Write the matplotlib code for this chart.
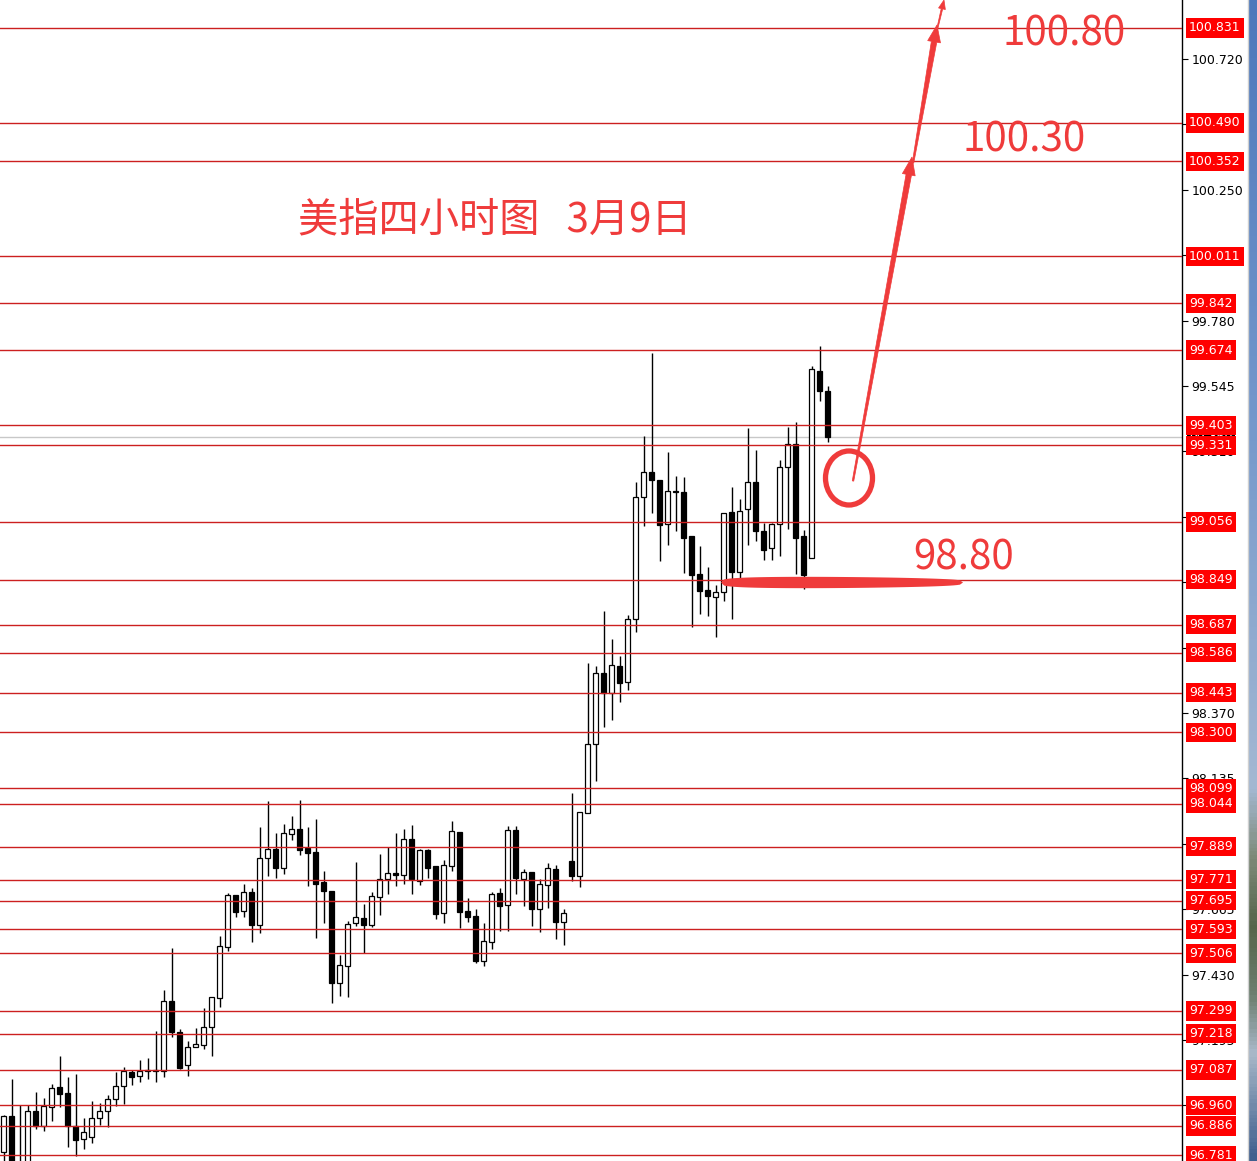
import numpy as np
import matplotlib
matplotlib.use("Agg")
from matplotlib import pyplot as plt
from matplotlib.patches import Polygon, Ellipse
from matplotlib.colors import LinearSegmentedColormap

# USD index, 4 hour candles (oldest first)
opens = [96.792, 96.921, 96.740, 96.740, 96.939, 96.885, 96.954, 97.025, 97.004, 96.885,
         96.839, 96.846, 96.914, 96.939, 96.982, 97.029, 97.079, 97.065, 97.086, 97.086,
         97.083, 97.334, 97.223, 97.104, 97.169, 97.176, 97.241, 97.345, 97.528, 97.715,
         97.658, 97.726, 97.607, 97.848, 97.881, 97.812, 97.934, 97.952, 97.884, 97.870,
         97.762, 97.730, 97.399, 97.460, 97.615, 97.633, 97.607, 97.708, 97.773, 97.794,
         97.787, 97.916, 97.766, 97.877, 97.820, 97.651, 97.820, 97.942, 97.658, 97.640,
         97.478, 97.546, 97.722, 97.679, 97.949, 97.773, 97.798, 97.665, 97.751, 97.809,
         97.618, 97.837, 97.784, 98.010, 98.258, 98.513, 98.441, 98.538, 98.481, 98.707,
         99.147, 99.237, 99.208, 99.050, 99.169, 99.165, 99.004, 98.868, 98.810, 98.785,
         98.803, 99.093, 98.875, 99.101, 99.198, 99.022, 98.964, 99.050, 99.252, 99.338,
         99.004, 98.925, 99.600, 99.525]
highs = [96.925, 97.054, 96.961, 96.961, 97.007, 96.986, 97.036, 97.137, 97.061, 97.072,
         96.914, 96.975, 96.968, 96.997, 97.079, 97.097, 97.086, 97.122, 97.130, 97.227,
         97.374, 97.525, 97.234, 97.191, 97.237, 97.309, 97.349, 97.568, 97.722, 97.715,
         97.755, 97.740, 97.960, 98.053, 97.938, 97.970, 97.999, 98.057, 97.960, 97.988,
         97.802, 97.730, 97.500, 97.622, 97.834, 97.683, 97.726, 97.863, 97.888, 97.938,
         97.952, 97.967, 97.881, 97.881, 97.820, 97.841, 97.981, 97.942, 97.704, 97.665,
         97.615, 97.726, 97.740, 97.963, 97.963, 97.809, 97.798, 97.773, 97.830, 97.823,
         97.665, 98.082, 98.013, 98.549, 98.538, 98.736, 98.635, 98.574, 98.721, 99.201,
         99.366, 99.664, 99.208, 99.309, 99.223, 99.219, 99.004, 98.968, 98.896, 98.828,
         99.090, 99.183, 99.140, 99.395, 99.316, 99.054, 99.054, 99.280, 99.399, 99.417,
         99.029, 99.618, 99.690, 99.543]
lows = [96.700, 96.700, 96.680, 96.700, 96.875, 96.867, 96.903, 96.954, 96.810, 96.777,
        96.803, 96.824, 96.889, 96.882, 96.957, 96.964, 97.033, 97.043, 97.054, 97.043,
        97.061, 97.205, 97.090, 97.065, 97.169, 97.162, 97.137, 97.313, 97.514, 97.636,
        97.636, 97.546, 97.579, 97.784, 97.776, 97.791, 97.913, 97.859, 97.748, 97.561,
        97.615, 97.327, 97.352, 97.349, 97.604, 97.507, 97.600, 97.643, 97.719, 97.748,
        97.755, 97.719, 97.751, 97.776, 97.629, 97.615, 97.802, 97.597, 97.618, 97.471,
        97.460, 97.521, 97.586, 97.586, 97.719, 97.676, 97.604, 97.582, 97.669, 97.557,
        97.536, 97.766, 97.744, 98.010, 98.125, 98.319, 98.344, 98.409, 98.452, 98.660,
        99.043, 99.090, 98.917, 98.975, 99.022, 98.871, 98.677, 98.724, 98.717, 98.641,
        98.771, 98.709, 98.853, 98.975, 98.986, 98.921, 98.921, 98.935, 99.032, 98.868,
        98.814, 98.925, 99.489, 99.345]
closes = [96.921, 96.740, 96.720, 96.939, 96.885, 96.957, 97.022, 97.000, 96.885, 96.835,
          96.864, 96.914, 96.939, 96.982, 97.029, 97.083, 97.061, 97.083, 97.083, 97.083,
          97.334, 97.223, 97.094, 97.169, 97.180, 97.241, 97.349, 97.532, 97.715, 97.654,
          97.726, 97.607, 97.848, 97.881, 97.812, 97.938, 97.952, 97.877, 97.866, 97.755,
          97.730, 97.399, 97.464, 97.611, 97.636, 97.607, 97.712, 97.773, 97.794, 97.787,
          97.916, 97.773, 97.877, 97.812, 97.647, 97.823, 97.945, 97.654, 97.636, 97.478,
          97.550, 97.719, 97.676, 97.949, 97.776, 97.798, 97.665, 97.755, 97.812, 97.618,
          97.651, 97.784, 98.013, 98.258, 98.513, 98.441, 98.542, 98.477, 98.707, 99.147,
          99.237, 99.208, 99.047, 99.169, 99.162, 99.000, 98.864, 98.807, 98.789, 98.803,
          99.090, 98.878, 99.097, 99.198, 99.022, 98.957, 99.050, 99.255, 99.338, 98.997,
          98.864, 99.604, 99.525, 99.360]

# red horizontal levels (labelled on the price scale)
levels = [100.831, 100.490, 100.352, 100.011, 99.842, 99.674, 99.403, 99.331, 99.056,
          98.849, 98.687, 98.586, 98.443, 98.300, 98.099, 98.044, 97.889, 97.771,
          97.695, 97.593, 97.506, 97.299, 97.218, 97.087, 96.960, 96.886, 96.781]

# plain price scale ticks
scale_ticks = [96.960, 97.195, 97.430, 97.665, 97.900, 98.135, 98.370, 98.605, 98.840,
               99.075, 99.310, 99.545, 99.780, 100.015, 100.250, 100.485, 100.720]

title = "美指四小时图   3月9日"
targets = ["100.80", "100.30", "98.80"]

RED = '#ef3b3b'
LINE_RED = '#cc2020'
W, H = 1257, 1161

fig = plt.figure(figsize=(W / 100, H / 100), dpi=100)
ax = fig.add_axes([0, 0, 1182 / W, 1])
ax.set_facecolor('white')

x = np.arange(len(opens))
o = np.array(opens)
c = np.array(closes)
up = c >= o
ax.vlines(x, lows, highs, color='black', lw=1, zorder=3)
ax.bar(x, c - o, bottom=o, width=0.6, color=np.where(up, 'white', 'black'),
       edgecolor='black', linewidth=0.9, zorder=4)

# current price line
ax.axhline(closes[-1], color='#c8c8c8', lw=1, zorder=2)

for lv in levels:
    ax.axhline(lv, color=LINE_RED, lw=1, zorder=5)

ax.set_xlim(-0.4375, -0.4375 + 1182 / 8)
ax.set_ylim(96.760, 100.9316)
ax.set_xticks([])
for s in ['left', 'top', 'bottom']:
    ax.spines[s].set_visible(False)
ax.spines['right'].set_color('black')
ax.spines['right'].set_linewidth(1)
ax.yaxis.tick_right()
ax.set_yticks(scale_ticks)
ax.set_yticklabels([f"{t:.3f}" for t in scale_ticks])
ax.tick_params(axis='y', direction='out', length=4, pad=3, labelsize=9, colors='black')

trans = ax.get_yaxis_transform()
lx = 1189 / 1182
ax.text(lx, closes[-1], f"{closes[-1]:.3f}", transform=trans, color='white', fontsize=9,
        va='center', ha='left', zorder=6,
        bbox=dict(boxstyle='square,pad=0.18', fc='black', ec='none'))
for lv in levels:
    ax.text(lx, lv, f"{lv:.3f}", transform=trans, color='white', fontsize=9,
            va='center', ha='left', zorder=7,
            bbox=dict(boxstyle='square,pad=0.25', fc='#ff0000', ec='none'))

# overlay in pixel coordinates for the hand drawn marks
ov = fig.add_axes([0, 0, 1, 1], zorder=10)
ov.patch.set_alpha(0)

# photo strip at the right edge
strip = LinearSegmentedColormap.from_list('strip', [
    (0.0, '#4d78bb'), (0.35, '#7397cb'), (0.68, '#a4b8d2'), (0.74, '#7d8a78'),
    (0.80, '#55654a'), (0.86, '#6c7f70'), (0.91, '#a8b8c8'), (1.0, '#3f5f8e')])
ov.imshow(np.linspace(0, 1, 300).reshape(-1, 1), cmap=strip, aspect='auto',
          extent=[1249, W, H, 0], zorder=1)
ov.plot([1248, 1248], [0, H], color='#d0d0d0', lw=1)


def arrow(x0, y0, x1, y1, w0, w1, hw, hl):
    d = np.array([x1 - x0, y1 - y0], dtype=float)
    u = d / np.hypot(*d)
    n = np.array([-u[1], u[0]])
    p0 = np.array([x0, y0], dtype=float)
    p1 = np.array([x1, y1], dtype=float)
    pb = p1 - u * hl
    pts = [p0 + n * w0 / 2, pb + n * w1 / 2, pb + n * hw / 2, p1,
           pb - n * hw / 2, pb - n * w1 / 2, p0 - n * w0 / 2]
    ov.add_patch(Polygon(pts, closed=True, fc=RED, ec=RED, lw=0.5, zorder=5))


arrow(853, 481, 912, 157, 1.5, 5.5, 13, 18)
arrow(913, 163, 937, 25, 1.5, 5.5, 13, 17)
arrow(937, 30, 944, 0, 1, 1.5, 7, 9)

ov.add_patch(Ellipse((849, 478), 47, 54, fill=False, ec=RED, lw=3.8, zorder=5))

# brush stroke under the 98.80 level
t = np.linspace(0, 1, 80)
bx = 721 + 242 * t
half = 6.5 * np.clip(1 - (2 * t - 1) ** 2, 0, 1) ** 0.25 * (1 - 0.3 * t)
pts = np.concatenate([np.c_[bx, 582.5 - half], np.c_[bx[::-1], 582.5 + half[::-1]]])
ov.add_patch(Polygon(pts, closed=True, fc=RED, ec='none', zorder=5))

cjk = ['Noto Sans CJK SC', 'DejaVu Sans']
ov.text(298, 220, title, color=RED, fontsize=29, va='center', ha='left', family=cjk)
ov.text(1003, 45, targets[0], color=RED, fontsize=29, va='baseline', ha='left', family=cjk)
ov.text(962, 152, targets[1], color=RED, fontsize=29, va='baseline', ha='left', family=cjk)
ov.text(913, 570, targets[2], color=RED, fontsize=29, va='baseline', ha='left', family=cjk)

ov.set_xlim(0, W)
ov.set_ylim(H, 0)
ov.axis('off')

fig.savefig('out.png', dpi=100)
